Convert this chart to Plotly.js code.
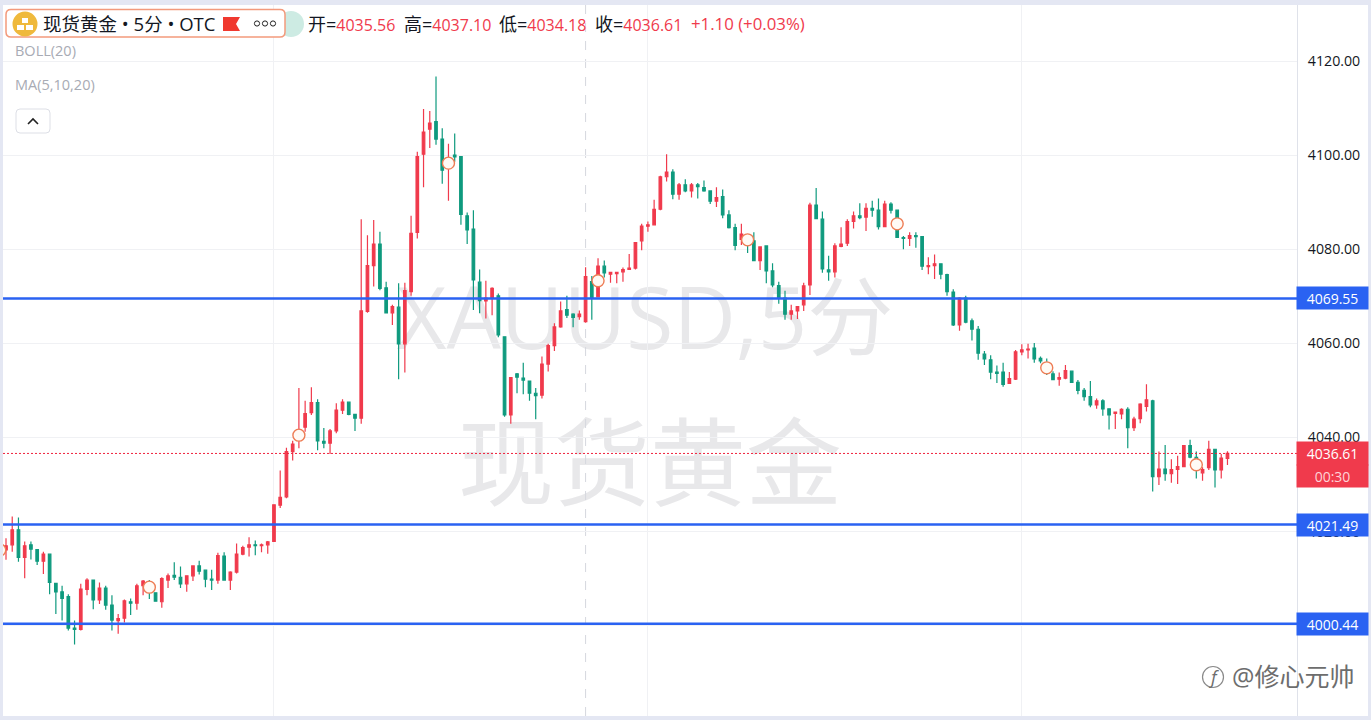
<!DOCTYPE html>
<html>
<head>
<meta charset="utf-8">
<script src="https://cdn.plot.ly/plotly-3.0.1.min.js"></script>
<style>html,body{margin:0;padding:0;background:#e4e7f3;overflow:hidden}#chart{width:1371px;height:720px}</style>
</head>
<body>
<div id="chart"></div>
<script>
const openPrices = [
4016.1,4017.2,4020.4,4014.5,4017.2,4016.2,4013.7,4015.2,4009.0,4007.2,
4006.2,3999.5,3999.2,4007.7,4009.7,4005.5,4008.0,4004.4,4001.1,4001.6,
4005.1,4004.8,4008.5,4009.4,4007.0,4005.1,4009.7,4010.7,4010.3,4008.9,
4010.6,4012.7,4011.8,4009.9,4009.7,4014.8,4009.7,4011.4,4015.2,4016.7,
4017.2,4017.0,4017.2,4017.9,4025.6,4027.4,4037.0,4039.5,4042.2,4045.3,
4047.4,4039.2,4038.8,4041.4,4045.8,4047.5,4044.9,4044.1,4066.8,4076.5,
4081.1,4071.8,4066.5,4067.7,4059.9,4071.0,4083.6,4100.2,4105.5,4107.1,
4103.4,4097.3,4100.0,4099.7,4087.1,4084.3,4073.0,4069.0,4069.6,4070.1,
4061.4,4044.8,4053.5,4052.6,4052.0,4049.4,4049.0,4055.6,4059.5,4063.5,
4067.2,4066.2,4065.7,4064.6,4073.1,4069.9,4076.4,4074.7,4074.8,4075.2,
4075.7,4076.0,4081.8,4084.9,4085.2,4088.5,4095.4,4096.4,4091.7,4093.7,
4092.4,4093.7,4093.1,4092.4,4090.2,4091.2,4087.3,4084.6,4082.1,4083.0,
4081.8,4077.6,4080.7,4075.4,4072.3,4069.6,4066.2,4066.9,4068.2,4072.4,
4089.4,4086.4,4075.6,4075.2,4080.6,4081.3,4085.9,4087.1,4086.8,4088.7,
4088.3,4084.8,4089.6,4088.3,4082.5,4082.3,4082.9,4082.7,4076.3,4076.5,
4076.9,4074.6,4070.9,4063.9,4069.6,4064.8,4063.0,4057.7,4056.5,4053.9,
4053.9,4051.5,4052.4,4058.2,4058.6,4059.0,4056.8,4055.8,4053.5,4052.4,
4052.6,4054.1,4051.7,4050.0,4048.7,4046.9,4047.8,4046.1,4045.1,4045.0,
4046.0,4042.1,4044.0,4046.6,4047.8,4031.7,4033.3,4032.3,4033.2,4033.8,
4038.3,4035.8,4032.5,4033.6,4037.5,4033.1,4035.56];
const highPrices = [
4018.6,4023.2,4023.0,4017.9,4017.9,4016.3,4015.7,4015.3,4009.1,4008.5,
4006.7,4001.1,4008.9,4010.1,4009.8,4009.2,4008.5,4006.5,4002.5,4005.6,
4005.8,4008.9,4009.7,4009.7,4007.0,4010.3,4011.1,4013.5,4012.6,4010.7,
4012.8,4013.8,4011.9,4011.9,4015.5,4015.6,4011.6,4017.5,4017.0,4018.8,
4018.1,4017.5,4018.0,4025.8,4033.0,4037.8,4039.3,4050.5,4047.8,4050.7,
4048.1,4042.0,4041.8,4047.3,4048.1,4047.6,4045.0,4086.4,4083.0,4086.2,
4083.7,4073.1,4068.2,4072.8,4072.9,4087.1,4100.7,4109.8,4109.4,4116.7,
4105.7,4102.4,4104.6,4099.8,4087.8,4088.3,4075.7,4073.3,4071.9,4070.6,
4061.5,4052.8,4053.7,4055.9,4052.1,4050.5,4057.2,4059.9,4064.3,4068.9,
4070.1,4066.4,4067.0,4076.2,4074.3,4078.1,4077.6,4075.2,4075.2,4076.1,
4079.0,4081.5,4085.4,4085.9,4090.5,4095.6,4100.2,4097.0,4094.1,4094.9,
4094.1,4094.1,4094.6,4092.5,4093.2,4092.7,4088.3,4085.4,4085.4,4083.1,
4083.6,4080.6,4080.8,4077.0,4073.1,4071.2,4068.2,4067.9,4072.9,4089.9,
4093.0,4088.0,4078.6,4081.3,4084.7,4086.4,4088.0,4089.8,4089.8,4090.3,
4090.8,4090.3,4090.0,4088.4,4082.8,4083.6,4083.6,4082.8,4078.3,4078.9,
4077.0,4074.8,4071.5,4069.8,4070.1,4065.3,4063.7,4058.4,4057.5,4055.3,
4055.9,4053.9,4058.6,4059.8,4059.9,4060.1,4057.2,4056.8,4054.1,4053.8,
4055.4,4054.2,4052.2,4050.5,4052.0,4048.3,4048.1,4046.2,4045.5,4046.2,
4046.4,4044.4,4047.3,4051.3,4048.0,4037.0,4038.4,4035.4,4036.1,4038.4,
4039.5,4037.0,4033.7,4039.3,4037.6,4036.5,4037.10];
const lowPrices = [
4014.0,4015.7,4013.6,4010.1,4014.1,4012.9,4011.0,4006.7,4002.5,4001.1,
3999.0,3996.0,3999.0,4006.5,4003.5,4004.6,4003.4,3999.0,3998.3,4000.7,
4002.3,4003.4,4006.5,4005.7,4005.1,4003.8,4008.0,4009.7,4008.0,4007.2,
4009.5,4010.9,4008.2,4007.6,4008.9,4009.6,4007.6,4011.1,4015.0,4014.7,
4015.0,4015.6,4015.3,4017.8,4025.0,4027.1,4035.1,4037.7,4041.2,4044.8,
4037.3,4037.7,4036.5,4040.9,4045.0,4044.7,4041.4,4042.9,4066.5,4072.1,
4071.3,4066.4,4063.9,4052.4,4053.8,4070.1,4082.3,4093.2,4101.5,4102.2,
4093.9,4090.3,4098.6,4085.2,4081.1,4067.1,4066.4,4065.3,4066.0,4061.3,
4044.4,4042.9,4049.4,4049.2,4047.8,4043.9,4048.3,4054.0,4058.4,4063.3,
4065.4,4063.4,4065.0,4064.4,4065.0,4069.8,4074.0,4072.9,4072.8,4073.1,
4075.7,4075.7,4079.8,4083.7,4085.1,4088.3,4094.4,4090.6,4090.5,4092.1,
4091.0,4090.8,4092.2,4089.6,4089.0,4086.6,4084.4,4079.8,4080.9,4079.2,
4077.5,4075.6,4072.8,4071.9,4068.4,4065.0,4065.0,4065.2,4066.9,4070.3,
4086.4,4075.0,4073.3,4074.0,4080.4,4080.7,4084.4,4086.4,4083.9,4086.9,
4084.2,4084.7,4087.6,4082.4,4080.0,4080.7,4080.3,4075.6,4074.7,4073.7,
4073.6,4070.1,4063.7,4062.7,4064.3,4060.6,4056.5,4055.4,4052.4,4051.6,
4050.8,4051.4,4052.2,4057.5,4056.8,4055.9,4055.8,4053.3,4052.2,4051.0,
4052.4,4051.6,4049.2,4047.8,4046.4,4046.1,4044.6,4041.7,4041.8,4043.9,
4037.7,4041.4,4043.0,4045.5,4028.5,4029.9,4030.8,4030.4,4030.1,4033.7,
4035.6,4031.3,4030.8,4033.1,4029.4,4031.3,4034.18];
const closePrices = [
4017.0,4020.4,4014.5,4017.0,4016.3,4013.7,4015.2,4009.2,4007.2,4005.8,
3999.5,3999.2,4007.8,4009.7,4005.5,4008.0,4004.4,4001.2,4001.5,4005.3,
4004.8,4008.5,4009.5,4007.2,4005.2,4010.0,4010.6,4010.3,4008.9,4010.6,
4012.7,4011.6,4009.9,4009.7,4014.9,4009.7,4011.4,4015.2,4016.6,4017.2,
4017.0,4017.2,4017.8,4025.7,4027.3,4037.0,4038.6,4041.6,4045.1,4047.4,
4039.3,4038.8,4041.4,4045.8,4047.5,4044.9,4044.1,4066.9,4076.5,4081.1,
4071.7,4066.5,4067.8,4059.9,4071.2,4083.4,4099.7,4104.9,4106.8,4103.4,
4096.8,4099.4,4099.6,4087.4,4084.1,4073.5,4069.1,4069.6,4071.7,4061.8,
4044.8,4052.7,4052.8,4052.2,4049.4,4048.9,4055.6,4059.5,4063.5,4066.9,
4066.0,4065.5,4066.2,4074.2,4069.7,4076.4,4075.0,4075.1,4075.1,4075.7,
4076.0,4081.4,4084.9,4085.2,4088.5,4095.4,4096.4,4091.7,4093.7,4092.4,
4093.7,4093.3,4092.4,4090.2,4091.0,4087.3,4084.6,4080.8,4083.2,4080.9,
4077.6,4080.5,4075.4,4072.4,4069.6,4066.2,4066.9,4067.8,4072.2,4089.4,
4086.5,4075.8,4075.2,4080.7,4081.1,4085.9,4087.1,4086.7,4088.7,4088.3,
4084.8,4089.6,4088.3,4082.5,4082.3,4082.9,4082.7,4076.4,4076.5,4076.9,
4074.7,4071.0,4063.9,4069.6,4064.5,4063.0,4057.9,4056.7,4053.9,4053.6,
4051.3,4052.5,4058.2,4058.6,4058.8,4056.7,4056.3,4053.6,4052.3,4052.7,
4054.2,4051.7,4050.0,4048.7,4046.9,4047.8,4046.1,4044.8,4045.4,4046.0,
4042.1,4043.9,4047.1,4048.0,4031.7,4033.3,4032.3,4033.2,4033.8,4038.3,
4035.8,4033.1,4033.2,4037.5,4033.1,4035.6,4036.61];
const eventBars   = [-1, 23, 47, 71, 95, 119, 143, 167, 191];
const eventPrices = [4016.1,4008.2,4040.5,4098.3,4073.3,4082.0,4085.4,4054.8,4034.2];
const priceTicks  = [4000,4020,4040,4060,4080,4100,4120];
const priceTickLabels = ['','4020.00','4040.00','4060.00','4080.00','4100.00','4120.00'];
const timeGridBars = [43,103,163];
const crosshairBar = 93;
const levels = [4069.55,4021.49,4000.44];
const lastPrice = 4036.61;
const countdown = '00:30';
const watermark = ['XAUUSD,5分','现货黄金'];
const headerTitle = '现货黄金 • 5分 • OTC';
const ohlcLabels = ['开=','高=','低=','收='];
const ohlcValues = ['4035.56','4037.10','4034.18','4036.61'];
const changeText = '+1.10 (+0.03%)';

const RED='#f03a4c', GREEN='#0f9a7e', BLUE='#2a62f2', AXIS='#dfe2ea', GRID='#f0f1f4';
const FONT='"Open Sans","Noto Sans CJK SC",sans-serif';
const L=3,T=5,R=1297,B=716,W=R-L,H=B-T;
const fx=x=>(x-L)/W, fy=y=>1-(y-T)/H;
const barIndex=openPrices.map((_,i)=>i);

function rectShape(x0,y0,x1,y1,fill,layer){return {type:'rect',xref:'paper',yref:'paper',x0:fx(x0),x1:fx(x1),y0:fy(y0),y1:fy(y1),fillcolor:fill,line:{width:0},layer:layer||'above'};}
function circleShape(cx,cy,r,fill,line,lw){return {type:'circle',xref:'paper',yref:'paper',x0:fx(cx-r),x1:fx(cx+r),y0:fy(cy-r),y1:fy(cy+r),fillcolor:fill,line:{color:line||fill,width:lw||0}};}
function pathShape(pts,fill,line,lw,layer){return {type:'path',xref:'paper',yref:'paper',path:pts(fx,fy),fillcolor:fill,line:{color:line||fill,width:lw===undefined?1:lw},layer:layer||'above'};}
function rrect(x0,y0,x1,y1,r){return (X,Y)=>`M${X(x0+r)},${Y(y0)}L${X(x1-r)},${Y(y0)}Q${X(x1)},${Y(y0)} ${X(x1)},${Y(y0+r)}L${X(x1)},${Y(y1-r)}Q${X(x1)},${Y(y1)} ${X(x1-r)},${Y(y1)}L${X(x0+r)},${Y(y1)}Q${X(x0)},${Y(y1)} ${X(x0)},${Y(y1-r)}L${X(x0)},${Y(y0+r)}Q${X(x0)},${Y(y0)} ${X(x0+r)},${Y(y0)}Z`;}
function note(x,y,text,size,color,extra){return Object.assign({xref:'paper',yref:'paper',x:fx(x),y:fy(y),xanchor:'left',yanchor:'middle',text:text,showarrow:false,borderpad:0,font:{family:FONT,size:size,color:color}},extra||{});}
function priceBox(price,text,bg,color,shift,h){return {xref:'paper',yref:'y',x:1,xshift:-1,y:price,xanchor:'left',yanchor:'middle',yshift:shift||0,width:71,height:h||22,text:text,showarrow:false,bgcolor:bg,borderpad:0,align:'center',font:{family:FONT,size:14,color:color}};}
const red=s=>`<span style="color:${RED}">${s}</span>`;

const shapes=[
  rectShape(L,T,1368,B,'#ffffff','below'),
  {type:'rect',xref:'paper',yref:'paper',x0:fx(397),x1:fx(893),y0:fy(370),y1:fy(272),line:{width:0},fillcolor:'rgba(0,0,0,0)',layer:'below',label:{text:watermark[0],font:{family:FONT,size:86,color:'#e8e8ea'},textposition:'middle center'}},
  {type:'rect',xref:'paper',yref:'paper',x0:fx(440),x1:fx(860),y0:fy(520),y1:fy(415),line:{width:0},fillcolor:'rgba(0,0,0,0)',layer:'below',label:{text:watermark[1],font:{family:FONT,size:96,color:'#e8e8ea'},textposition:'middle center'}},
  {type:'line',xref:'x',yref:'paper',x0:crosshairBar,x1:crosshairBar,y0:0,y1:1,line:{color:'#d5d7de',width:1,dash:'dash'},layer:'below'},
  {type:'line',xref:'paper',yref:'y',x0:0,x1:1,y0:lastPrice,y1:lastPrice,line:{color:'#f0203c',width:1,dash:'2px,2px'}},
  ...levels.map(v=>({type:'line',xref:'paper',yref:'y',x0:0,x1:1,y0:v,y1:v,line:{color:BLUE,width:2.5}})),
  circleShape(291,24,13,'#cdebe3'),
  pathShape(rrect(6,9.5,285,37,5),'#ffffff','#f39a7c',1.5),
  circleShape(25,24,12.5,'#efb93c'),
  rectShape(22,18,28,23,'#ffffff'),
  rectShape(17,25,24,30,'#ffffff'),
  rectShape(26,25,33,30,'#ffffff'),
  pathShape(()=>`M${fx(223)},${fy(17)}L${fx(240)},${fy(17)}L${fx(236)},${fy(24)}L${fx(240)},${fy(31)}L${fx(223)},${fy(31)}Z`,'#f0392f','#f0392f',0),
  circleShape(257,23.5,2.6,'#ffffff','#222222',1),
  circleShape(265,23.5,2.6,'#ffffff','#222222',1),
  circleShape(273,23.5,2.6,'#ffffff','#222222',1),
  pathShape(rrect(16,109,50,133,4),'#ffffff','#dddfe6',1),
  pathShape(()=>`M${fx(28)},${fy(124)}L${fx(33)},${fy(119)}L${fx(38)},${fy(124)}`,'rgba(0,0,0,0)','#222222',1.6),
  circleShape(1213,677,10.5,'rgba(0,0,0,0)','#8a8a8a',1.2),
];

const ohlcX=[307,403,498,594];
const annotations=[
  note(42,24,headerTitle,18.5,'#131722'),
  ...ohlcLabels.map((t,i)=>note(ohlcX[i],24,`<span style="font-size:18px">${t}</span>`+red(ohlcValues[i]),16,'#131722')),
  note(690,24,changeText,16.8,RED),
  note(14,51,'BOLL(20)',14.5,'#a8abb4'),
  note(14,84,'MA(5,10,20)',14.5,'#a8abb4'),
  note(1207,677,'<i>f</i>',18,'#6d6d6d'),
  note(1231,676,'@修心元帅',25,'#6d6d6d'),
  priceBox(levels[0],levels[0].toFixed(2),BLUE,'#ffffff'),
  priceBox(levels[1],levels[1].toFixed(2),BLUE,'#ffffff'),
  priceBox(levels[2],levels[2].toFixed(2),BLUE,'#ffffff'),
  priceBox(lastPrice,lastPrice.toFixed(2),RED,'#ffffff',0,23),
  priceBox(lastPrice,countdown,RED,'#ffd2d6',-22.5,22),
];

const traces=[
  {type:'candlestick',x:barIndex,open:openPrices,high:highPrices,low:lowPrices,close:closePrices,
   increasing:{line:{color:RED,width:1.2},fillcolor:RED},decreasing:{line:{color:GREEN,width:1.2},fillcolor:GREEN},
   whiskerwidth:0,showlegend:false,hoverinfo:'skip'},
  {type:'scatter',mode:'markers',x:eventBars,y:eventPrices,showlegend:false,hoverinfo:'skip',
   marker:{size:12,color:'#fffaf5',line:{color:'#ee7d55',width:1.4}}}
];

const layout={
  width:1371,height:720,margin:{l:L,r:1371-R,t:T,b:720-B,pad:0},
  paper_bgcolor:'#e4e7f3',plot_bgcolor:'#ffffff',showlegend:false,boxgap:0.42,
  font:{family:FONT,size:14,color:'#131722'},
  xaxis:{type:'linear',range:[(L-6)/6.232,(R-6)/6.232],tickmode:'array',tickvals:timeGridBars,showticklabels:false,ticks:'',showgrid:true,gridcolor:GRID,gridwidth:1,zeroline:false,showline:false,rangeslider:{visible:false},fixedrange:true},
  yaxis:{side:'right',range:[3980.82,4131.9],tickmode:'array',tickvals:priceTicks,ticktext:priceTickLabels,ticks:'outside',ticklen:7,tickcolor:'rgba(0,0,0,0)',showgrid:true,gridcolor:GRID,gridwidth:1,zeroline:false,showline:true,linecolor:AXIS,linewidth:1,tickfont:{family:FONT,size:14.2,color:'#131722'},fixedrange:true,automargin:false},
  shapes:shapes,annotations:annotations
};
Plotly.newPlot('chart',traces,layout,{displayModeBar:false,staticPlot:true});
</script>
</body>
</html>
